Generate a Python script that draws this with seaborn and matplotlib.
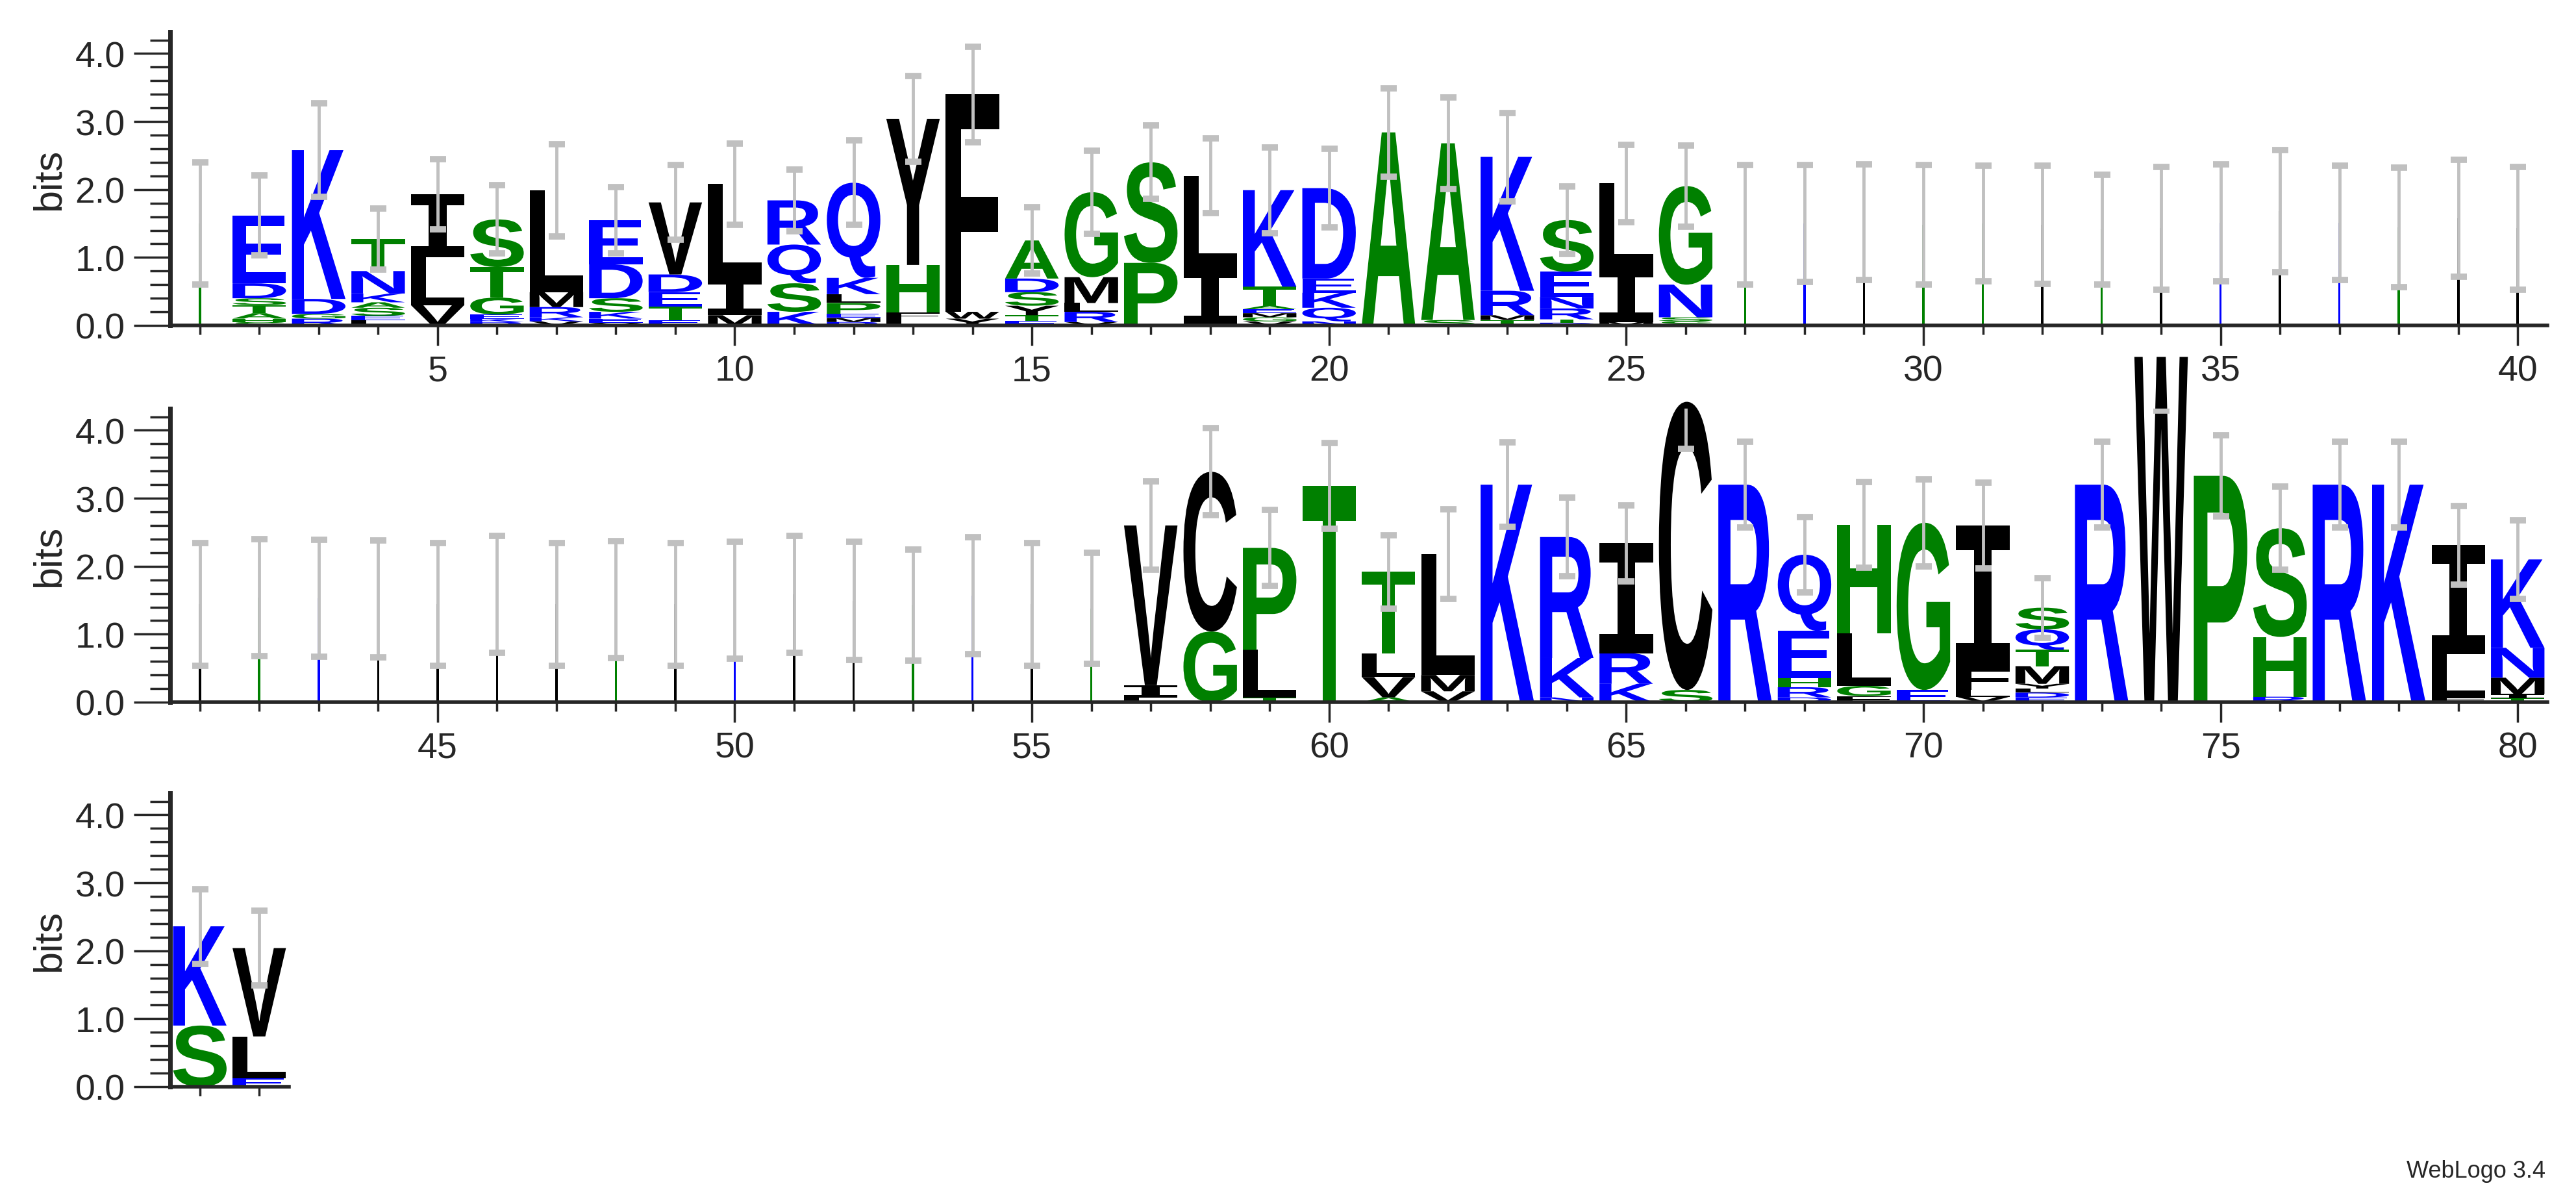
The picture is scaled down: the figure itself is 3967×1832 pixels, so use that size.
import matplotlib
matplotlib.use("Agg")
import matplotlib.pyplot as plt
import seaborn as sns
from matplotlib.textpath import TextPath
from matplotlib.patches import PathPatch
from matplotlib.font_manager import FontProperties
from matplotlib.transforms import Affine2D

# ---------------- data ----------------
# stacks: letters bottom -> top, with heights (bits)
stack_letters = {
    2: "SHATSDE", 3: "RGDK", 4: "LESAKNT", 5: "VLI", 6: "RKEGTS", 7: "VKRML",
    8: "VEKSDE", 9: "ETEDV", 10: "MIL", 11: "KSQR", 12: "RMEPLKQ", 13: "LFHY",
    14: "YWF", 15: "ETYSDA", 16: "VRLMG", 17: "PS", 18: "IL", 19: "VGMEATK",
    20: "NQKED", 21: "A", 22: "SA", 23: "TMRK", 24: "DTRNES", 25: "MIL", 26: "SSNG",
    57: "LIV", 58: "GC", 59: "TLP", 60: "T", 61: "AVLT", 62: "VML", 63: "K",
    64: "NKR", 65: "KRI", 66: "SC", 67: "R", 68: "DRHEQ", 69: "FGLH", 70: "EG",
    71: "VLFI", 72: "EDLYMTQS", 73: "R", 74: "W", 75: "P", 76: "RHS", 77: "R",
    78: "K", 79: "FLI", 80: "TIMNK", 81: "SK", 82: "ELV",
}
stack_heights = {
    2: [.05, .05, .08, .12, .1, .22, 1.0], 3: [.1, .07, .22, 2.19],
    4: [.08, .06, .12, .08, .13, .33, .47], 5: [.3, .7, .93],
    6: [.05, .05, .06, .25, .45, .7], 7: [.06, .06, .15, .22, 1.5],
    8: [.04, .06, .1, .2, .5, .65], 9: [.08, .2, .21, .26, 1.06],
    10: [.15, .55, 1.38], 11: [.2, .42, .57, .65],
    12: [.05, .06, .06, .16, .13, .24, 1.4], 13: [.1, .09, .7, 2.15],
    14: [.1, .1, 3.2], 15: [.07, .08, .14, .2, .2, .56], 16: [.05, .15, .13, .38, 1.25],
    17: [.92, 1.48], 18: [.84, 1.36], 19: [.06, .06, .06, .06, .05, .28, 1.42],
    20: [.06, .2, .22, .21, 1.33], 21: [2.84], 22: [.08, 2.6], 23: [.08, .07, .36, 1.97],
    24: [.04, .05, .16, .17, .37, .76], 25: [.05, .8, 1.24], 26: [.06, .06, .48, 1.45],
    57: [.07, .18, 2.35], 58: [1.04, 2.35], 59: [.07, .7, 1.5], 60: [3.18],
    61: [.07, .3, .35, 1.2], 62: [.16, .24, 1.78], 63: [3.2], 64: [.07, .58, 1.78],
    65: [.27, .45, 1.62], 66: [.18, 4.24], 67: [3.2], 68: [.07, .15, .13, .7, 1.12],
    69: [.09, .15, .77, 1.6], 70: [.18, 2.46], 71: [.08, .1, .32, 2.1],
    72: [.07, .07, .06, .07, .26, .24, .3, .32], 73: [3.2], 74: [5.08], 75: [3.33],
    76: [.08, .88, 1.6], 77: [3.2], 78: [3.2], 79: [.07, .64, 1.6],
    80: [.06, .06, .24, .44, 1.3], 81: [.9, 1.46], 82: [.12, .62, 1.3],
}
# low-occupancy columns drawn as thin strokes
thin_positions = [1, 27, 28, 29, 30, 31, 32, 33, 34, 35, 36, 37, 38, 39, 40,
                  41, 42, 43, 44, 45, 46, 47, 48, 49, 50, 51, 52, 53, 54, 55, 56]
thin_colors = ["g", "g", "b", "k", "g", "g", "k", "g", "k", "b", "k", "b", "g", "k", "k",
               "k", "g", "b", "k", "k", "k", "k", "g", "k", "b", "k", "k", "g", "b", "k", "g"]
thin_heights = [1.5, 1.48, 1.5, 1.52, 1.48, 1.5, 1.48, 1.41, 1.43, 1.51, 1.68, 1.51, 1.44, 1.58, 1.43,
                1.44, 1.54, 1.53, 1.52, 1.44, 1.59, 1.44, 1.51, 1.44, 1.5, 1.59, 1.49, 1.43, 1.57, 1.44, 1.38]
# error half-widths per position 1..82
error_half = [0.9, .59, .69, .45, .52, .5, .68, .49, .55, .6, .45, .62, .63, .7, .49, .61, .54, .55, .63, .58,
              .65, .67, .65, .5, .57, .6, .88, .86, .85, .88, .85, .87, .81, .9, .86, .9, .84, .88, .86, .9,
              .9, .86, .86, .86, .9, .86, .9, .86, .9, .86, .86, .87, .82, .86, .9, .82,
              .65, .64, .56, .63, .54, .66, .62, .58, .56, .69, .63, .55, .63, .64, .63, .44, .63, .79,
              .6, .61, .63, .63, .58, .58, .55, .55]

# ---------------- style ----------------
sns.set_style("ticks")
plt.rcParams["font.family"] = ["Liberation Sans", "DejaVu Sans"]
BLUE, GREEN, BLACK = "#0000ff", "#008000", "#000000"
cmap_letters = {}
for c in "RKDENQ":
    cmap_letters[c] = BLUE
for c in "SGHTAP":
    cmap_letters[c] = GREEN
for c in "YVMCLFIW":
    cmap_letters[c] = BLACK
thin_map = {"g": GREEN, "b": BLUE, "k": BLACK}
prop = FontProperties(family="Liberation Sans", weight="bold")
prop_i = FontProperties(family="DejaVu Sans Mono", weight="bold")

W, H = 3967, 1833
fig = plt.figure(figsize=(W / 100, H / 100), dpi=100)
rows = [(1, 40, 50, 502, 3923), (41, 80, 630, 1082, 3923), (81, 82, 1222, 1674, 445)]
axes = []
for start, end, top, bot, right in rows:
    ax = fig.add_axes([262 / W, 1 - bot / H, (right - 262) / W, (bot - top) / H])
    axes.append((ax, start, end))

def draw_letter(ax, ch, x, y, h, width=0.9):
    tp = TextPath((0, 0), ch, size=1, prop=prop_i if ch == "I" else prop)
    bb = tp.get_extents()
    tr = (Affine2D().translate(-bb.x0, -bb.y0)
          .scale(width / bb.width, h / bb.height)
          .translate(x - width / 2, y))
    ax.add_patch(PathPatch(tr.transform_path(tp), color=cmap_letters[ch], lw=0, clip_on=False))

for ax, start, end in axes:
    tops = {}
    for p in range(start, end + 1):
        if p in stack_letters:
            y = 0.0
            for ch, h in zip(stack_letters[p], stack_heights[p]):
                draw_letter(ax, ch, p, y, h)
                y += h
            tops[p] = y
    for p, c, h in zip(thin_positions, thin_colors, thin_heights):
        if start <= p <= end:
            ax.bar(p, h, width=0.04, color=thin_map[c], linewidth=0)
            tops[p] = h
    ps = sorted(tops)
    ax.errorbar(ps, [tops[p] for p in ps], yerr=[error_half[p - 1] for p in ps],
                fmt="none", ecolor="#c0c0c0", elinewidth=3.5, capsize=9, capthick=7, zorder=5)
    ax.set_xlim(start - 0.5, start + 39.5 if end - start > 5 else end + 0.5)
    ax.set_ylim(0, 4.32)
    ax.set_xticks(range(start, end + 1), minor=True)
    majors = [t for t in range(start, end + 1) if t % 5 == 0]
    ax.set_xticks(majors)
    ax.set_xticklabels([str(t) for t in majors], fontsize=40)
    ax.set_yticks([0, 1, 2, 3, 4])
    ax.set_yticklabels(["0.0", "1.0", "2.0", "3.0", "4.0"], fontsize=40)
    ax.set_yticks([i * 0.2 for i in range(22)], minor=True)
    ax.tick_params(axis="both", which="major", length=22, width=2.5, direction="out", pad=10)
    ax.tick_params(axis="both", which="minor", length=10, width=2.5, direction="out")
    ax.tick_params(axis="y", which="minor", length=22)
    ax.tick_params(axis="y", which="major", length=40)
    ax.set_ylabel("bits", fontsize=44, labelpad=8)
    for s in ["top", "right"]:
        ax.spines[s].set_visible(False)
    ax.spines["left"].set_linewidth(5)
    ax.spines["bottom"].set_linewidth(4)

fig.text(3920 / W, 12 / H, "WebLogo 3.4", ha="right", va="bottom", fontsize=26)
fig.savefig("out.png", dpi=100)
